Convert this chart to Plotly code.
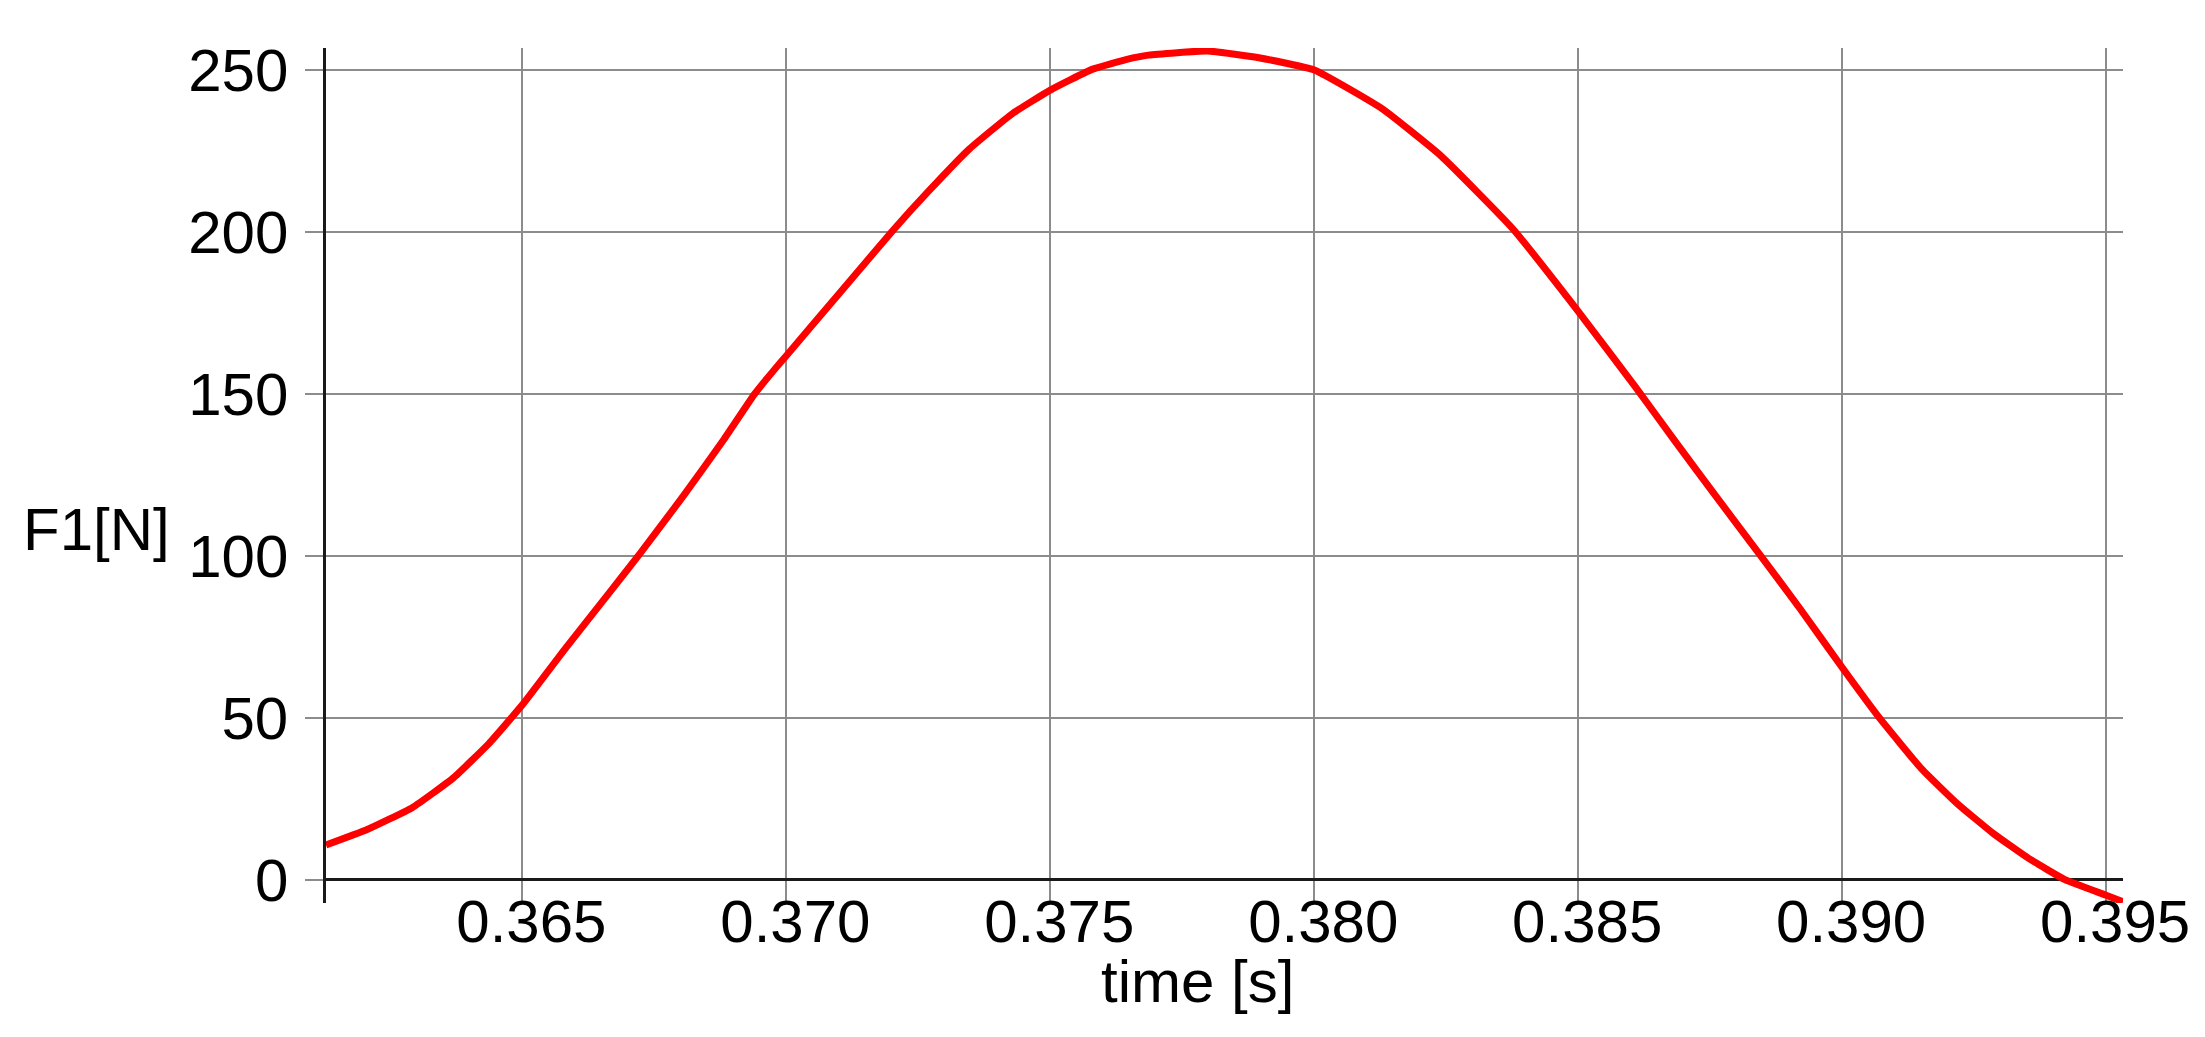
import plotly.graph_objects as go

# time [s]
time_s = [0.36128, 0.36205, 0.36292, 0.36369, 0.36437, 0.36500, 0.36582, 0.36669,
          0.36722, 0.36805, 0.36882, 0.36940, 0.36979, 0.37000, 0.37095, 0.37201,
          0.37269, 0.37346, 0.37428, 0.37500, 0.37579, 0.37645, 0.37686, 0.37797,
          0.37895, 0.38000, 0.38129, 0.38240, 0.38376, 0.38500, 0.38609, 0.38683,
          0.38765, 0.38849, 0.38921, 0.39000, 0.39068, 0.39150, 0.39218, 0.39286,
          0.39354, 0.39422, 0.39500, 0.39532]
# F1 [N]
force_n = [10.7, 15.4, 22.3, 31.4, 42.1, 54.0, 71.5, 89.5,
           100.5, 118.5, 136.0, 150.0, 157.8, 161.8, 180.0, 200.3,
           212.5, 225.5, 236.5, 243.8, 250.2, 253.3, 254.6, 255.9,
           253.8, 250.0, 238.0, 223.5, 201.0, 175.5, 152.0, 135.5,
           117.5, 99.3, 83.5, 65.5, 50.5, 34.3, 23.5, 14.3,
           6.5, 0.0, -4.8, -6.8]

x_ticks = [0.365, 0.370, 0.375, 0.380, 0.385, 0.390, 0.395]
x_tick_text = ["0.365", "0.370", "0.375", "0.380", "0.385", "0.390", "0.395"]
y_ticks = [0, 50, 100, 150, 200, 250]
y_tick_text = ["0", "50", "100", "150", "200", "250"]

x_title = "time [s]"
y_title = "F1[N]"

FONT = "Liberation Sans, Arial, sans-serif"
GRID = "#8c8c8c"

fig = go.Figure()
fig.add_trace(go.Scatter(
    x=time_s, y=force_n, mode="lines",
    line=dict(color="#ff0000", width=7, shape="spline", smoothing=0.4),
    showlegend=False, cliponaxis=False,
))

fig.update_layout(
    width=2205, height=1037,
    margin=dict(l=318, r=90, t=40, b=142),
    paper_bgcolor="white", plot_bgcolor="white",
    font=dict(family=FONT, size=60, color="black"),
    showlegend=False,
)

fig.update_xaxes(
    range=[time_s[0], 0.39532],
    tickmode="array", tickvals=x_ticks, ticktext=x_tick_text,
    showgrid=True, gridcolor=GRID, gridwidth=2,
    zeroline=False, showline=False,
    ticks="", ticklabelshift=9, ticklabelstandoff=-22,
    tickfont=dict(family=FONT, size=60, color="black"),
)
fig.update_yaxes(
    range=[-7.2, 256.8],
    tickmode="array", tickvals=y_ticks, ticktext=y_tick_text,
    showgrid=True, gridcolor=GRID, gridwidth=2,
    zeroline=True, zerolinecolor="#1a1a1a", zerolinewidth=2.5,
    showline=True, linecolor="#1a1a1a", linewidth=2.5,
    ticks="outside", ticklen=18, tickcolor=GRID, tickwidth=2,
    ticklabelstandoff=5,
    tickfont=dict(family=FONT, size=60, color="black"),
)

fig.add_annotation(
    text=y_title, xref="paper", yref="y",
    x=-0.1697, y=108, xanchor="left", yanchor="middle",
    showarrow=False, font=dict(family=FONT, size=60, color="black"),
)
fig.add_annotation(
    text=x_title, xref="paper", yref="paper",
    x=0.4847, y=-0.092, xanchor="center", yanchor="middle",
    showarrow=False, font=dict(family=FONT, size=60, color="black"),
)

fig.write_html("out.html")
